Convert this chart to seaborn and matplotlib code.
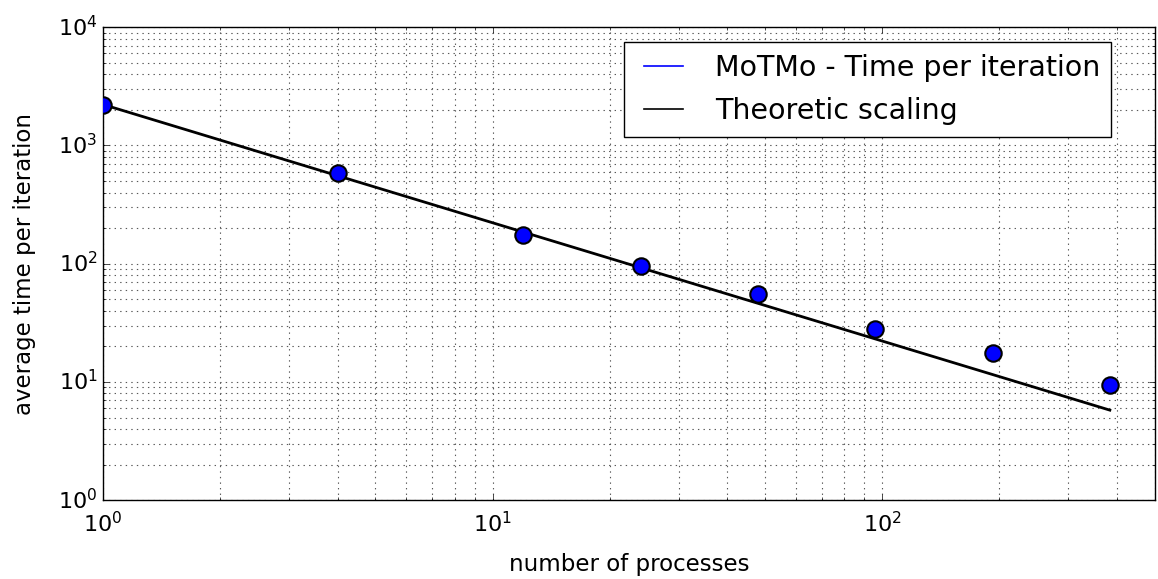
import matplotlib
matplotlib.use("Agg")
import matplotlib.pyplot as plt
from matplotlib.lines import Line2D
import numpy as np
import pandas as pd
import seaborn as sns

processes = [1, 4, 12, 24, 48, 96, 192, 384]
time_per_iteration = [2220, 580, 176, 96, 55, 28, 17.6, 9.4]

# theoretic scaling: first value divided by number of processes
theory_x = [1, 384]
theory_y = [time_per_iteration[0] / p for p in theory_x]

plt.style.use('classic')
plt.rcParams['font.family'] = ['DejaVu Sans']

df = pd.DataFrame({'processes': processes, 'time': time_per_iteration})
df_theory = pd.DataFrame({'processes': theory_x, 'time': theory_y})

fig, ax = plt.subplots(figsize=(11.58, 5.79), dpi=100)
fig.subplots_adjust(left=0.089, right=0.997, top=0.953, bottom=0.136)

sns.lineplot(data=df_theory, x='processes', y='time', color='black',
             linewidth=2, ax=ax, legend=False)
sns.scatterplot(data=df, x='processes', y='time', color='blue',
                edgecolor='black', linewidth=1.5, s=140, ax=ax,
                legend=False, zorder=5)

ax.set_xscale('log')
ax.set_yscale('log')
ax.set_xlim(1, 500)
ax.set_ylim(1, 1e4)
ax.grid(True, which='both', color='0.35', linestyle=(0, (1, 3)), linewidth=0.8)
ax.set_axisbelow(True)
ax.tick_params(labelsize=16)
ax.tick_params(axis='x', pad=8)
ax.set_xlabel('number of processes', fontsize=16.5, labelpad=12)
ax.set_ylabel('average time per iteration', fontsize=16.5, labelpad=16)

handles = [Line2D([], [], color='blue', linewidth=1.2),
           Line2D([], [], color='black', linewidth=1.2)]
ax.legend(handles, ['MoTMo - Time per iteration', 'Theoretic scaling'],
          loc='upper right', fontsize=20.5, frameon=True, borderaxespad=0,
          bbox_to_anchor=(0.959, 0.968), handlelength=2.0,
          labelspacing=0.55)

fig.savefig('out.png', dpi=100)
